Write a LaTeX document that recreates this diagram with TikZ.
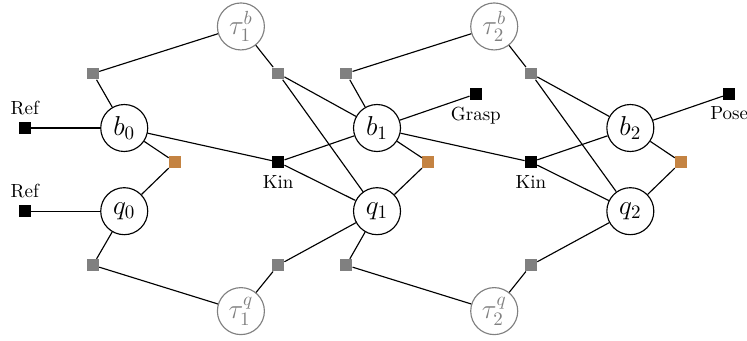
\documentclass[tikz,border=0pt]{standalone}
\usepackage{amsmath}
\usepackage{xcolor}
\usepackage{tikz}
\usetikzlibrary{arrows,calc,shapes.misc}
\definecolor{facorange}{RGB}{196,131,66}
\definecolor{facgray}{RGB}{128,128,128}
\tikzset{Var/.style={circle,draw,semithick,minimum size=0.87cm,inner sep=0pt,font=\Large}}
\tikzset{Hid/.style={Var,draw=facgray,text=facgray}}
\tikzset{Fac/.style={rectangle,fill=black,minimum size=0.22cm,inner sep=0pt}}
\tikzset{GFac/.style={Fac,fill=facgray}}
\tikzset{OFac/.style={Fac,fill=facorange}}

\begin{document}
\begin{tikzpicture}
    \useasboundingbox (0,0) rectangle (13.83,6.30);
    % variables
    \node[Var] (b0) at (2.30,3.93) {$b_0$};
    \node[Var] (q0) at (2.30,2.39) {$q_0$};
    \node[Var] (b1) at (6.98,3.93) {$b_1$};
    \node[Var] (q1) at (6.98,2.39) {$q_1$};
    \node[Var] (b2) at (11.67,3.93) {$b_2$};
    \node[Var] (q2) at (11.67,2.39) {$q_2$};
    \node[Hid] (tb1) at (4.46,5.81) {$\tau_1^b$};
    \node[Hid] (tq1) at (4.46,0.54) {$\tau_1^q$};
    \node[Hid] (tb2) at (9.15,5.81) {$\tau_2^b$};
    \node[Hid] (tq2) at (9.15,0.54) {$\tau_2^q$};
    % factors
    \node[Fac,label=above:Ref] (ref1) at (0.46,3.93) {};
    \node[Fac,label=above:Ref] (ref2) at (0.46,2.39) {};
    \node[Fac,label=below:Kin] (kin1) at (5.15,3.30) {};
    \node[Fac,label=below:Kin] (kin2) at (9.83,3.30) {};
    \node[Fac,label=below:Grasp] (grasp) at (8.81,4.56) {};
    \node[Fac,label=below:Pose] (pose) at (13.50,4.56) {};
    \node[OFac] (o0) at (3.24,3.30) {};
    \node[OFac] (o1) at (7.93,3.30) {};
    \node[OFac] (o2) at (12.61,3.30) {};
    \node[GFac] (gb0) at (1.72,4.94) {};
    \node[GFac] (gq0) at (1.72,1.39) {};
    \node[GFac] (gb1) at (5.15,4.94) {};
    \node[GFac] (gq1) at (5.15,1.39) {};
    \node[GFac] (gb2) at (6.41,4.94) {};
    \node[GFac] (gq2) at (6.41,1.39) {};
    \node[GFac] (gb3) at (9.83,4.94) {};
    \node[GFac] (gq3) at (9.83,1.39) {};
    \begin{scope}[semithick]
      \draw (ref1) -- (b0);
      \draw (ref2) -- (q0);
      \draw (b0) -- (gb0) -- (tb1);
      \draw (q0) -- (gq0) -- (tq1);
      \draw (b0) -- (o0) -- (q0);
      \draw (b0) -- (kin1) -- (b1);
      \draw (kin1) -- (q1);
      \draw (tb1) -- (gb1) -- (b1);
      \draw (gb1) -- (q1);
      \draw (tq1) -- (gq1) -- (q1);
      \draw (b1) -- (gb2) -- (tb2);
      \draw (q1) -- (gq2) -- (tq2);
      \draw (b1) -- (o1) -- (q1);
      \draw (b1) -- (grasp);
      \draw (b1) -- (kin2) -- (b2);
      \draw (kin2) -- (q2);
      \draw (tb2) -- (gb3) -- (b2);
      \draw (gb3) -- (q2);
      \draw (tq2) -- (gq3) -- (q2);
      \draw (b2) -- (o2) -- (q2);
      \draw (b2) -- (pose);
    \end{scope}
\end{tikzpicture}
\end{document}
